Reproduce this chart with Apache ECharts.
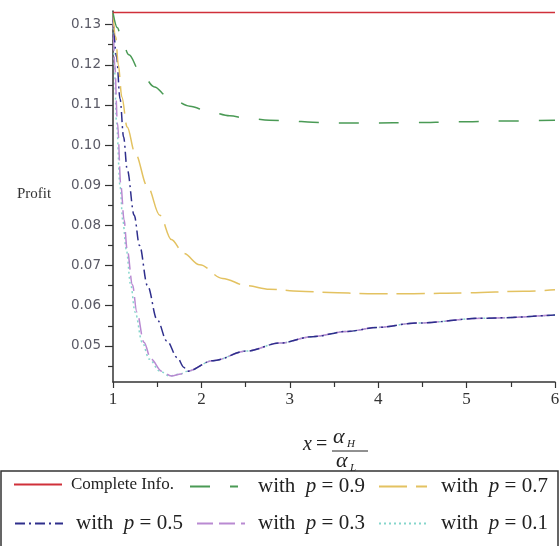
<!DOCTYPE html>
<html>
<head>
<meta charset="utf-8">
<script src="https://cdn.jsdelivr.net/npm/echarts@6/dist/echarts.min.js"></script>
<style>html,body{margin:0;padding:0;background:#fff}#c{width:559px;height:546px}</style>
</head>
<body>
<div id="c"></div>
<script>
// ---- data ----
var xTickLabels = [1, 2, 3, 4, 5, 6];
var xMinorTicks = [1.5, 2.5, 3.5, 4.5, 5.5];
var yTickLabels = [0.05, 0.06, 0.07, 0.08, 0.09, 0.10, 0.11, 0.12, 0.13];
var yMinorTicks = [0.045, 0.055, 0.065, 0.075, 0.085, 0.095, 0.105, 0.115, 0.125];

var completeX = [1, 6];
var completeY = [0.133, 0.133];

var p09X = [1, 1.05, 1.1, 1.18, 1.3, 1.47, 1.61, 1.87, 2.09, 2.32, 2.51, 2.77, 3.0, 3.26, 3.49, 3.72, 3.94, 4.4, 4.9, 5.4, 6.0];
var p09Y = [0.133, 0.1292, 0.126, 0.1225, 0.1185, 0.1145, 0.1122, 0.1097, 0.1083, 0.1073, 0.1067, 0.1062, 0.106, 0.1057, 0.1055, 0.1055, 0.1055, 0.1056, 0.1058, 0.106, 0.1062];

var p07X = [1, 1.03, 1.06, 1.10, 1.16, 1.25, 1.39, 1.53, 1.66, 1.8, 1.98, 2.24, 2.51, 2.77, 3.11, 3.45, 3.88, 4.4, 5.0, 5.65, 6.0];
var p07Y = [0.133, 0.127, 0.12, 0.112, 0.1045, 0.098, 0.0897, 0.0825, 0.0765, 0.073, 0.0702, 0.0668, 0.065, 0.0641, 0.0636, 0.0633, 0.063, 0.063, 0.0632, 0.0636, 0.064];

var p05X = [1, 1.04, 1.08, 1.12, 1.16, 1.24, 1.3, 1.39, 1.5, 1.61, 1.73, 1.8, 1.84, 2.13, 2.51, 2.89, 3.26, 3.65, 3.99, 4.44, 5.2, 6.0];
var p05Y = [0.133, 0.122, 0.1115, 0.102, 0.094, 0.0825, 0.075, 0.065, 0.0565, 0.0512, 0.047, 0.0447, 0.0437, 0.0463, 0.0487, 0.0507, 0.0523, 0.0536, 0.0546, 0.0557, 0.0569, 0.0577];

var p03X = [1, 1.02, 1.05, 1.09, 1.125, 1.16, 1.22, 1.27, 1.35, 1.43, 1.55, 1.66, 1.77, 1.84, 2.13, 2.51, 2.89, 3.26, 3.65, 3.99, 4.44, 5.2, 6.0];
var p03Y = [0.133, 0.12, 0.1055, 0.0897, 0.0814, 0.074, 0.0652, 0.0584, 0.0509, 0.0467, 0.0437, 0.0425, 0.043, 0.0437, 0.0463, 0.0487, 0.0507, 0.0523, 0.0536, 0.0546, 0.0557, 0.0569, 0.0577];

var p01X = [1, 1.015, 1.04, 1.08, 1.11, 1.15, 1.2, 1.25, 1.33, 1.41, 1.53, 1.64, 1.76, 1.84, 2.13, 2.51, 2.89, 3.26, 3.65, 3.99, 4.44, 5.2, 6.0];
var p01Y = [0.133, 0.12, 0.1055, 0.0897, 0.0814, 0.074, 0.0652, 0.0584, 0.0509, 0.0467, 0.0437, 0.0425, 0.043, 0.0437, 0.0463, 0.0487, 0.0507, 0.0523, 0.0536, 0.0546, 0.0557, 0.0569, 0.0577];

var seriesNames = ['Complete Info.', 'with p = 0.9', 'with p = 0.7', 'with p = 0.5', 'with p = 0.3', 'with p = 0.1'];

function zip(xs, ys) { return xs.map(function (x, i) { return [x, ys[i]]; }); }

var chart = echarts.init(document.getElementById('c'), null, { renderer: 'canvas' });

var serif = '"Liberation Serif", "DejaVu Serif", serif';
var axisColor = '#333';

function lineSeries(name, xs, ys, color, dash, z) {
  return {
    name: name, type: 'line', data: zip(xs, ys), symbol: 'none',
    smooth: 0.35, smoothMonotone: 'x', z: z,
    lineStyle: { color: color, width: 1.5, type: dash },
    itemStyle: { color: color }
  };
}

function legendItem(name, left, top, fontSize, pad) {
  return {
    data: [name], left: left, top: top, padding: 0,
    itemWidth: 48, itemHeight: 14, itemGap: 0,
    selectedMode: false,
    itemStyle: { opacity: 0, borderWidth: 0 },
    textStyle: {
      fontFamily: serif, fontSize: fontSize, color: '#222', padding: [0, 0, 0, pad],
      rich: { i: { fontFamily: serif, fontStyle: 'italic', fontSize: fontSize, color: '#222' } }
    },
    formatter: function (n) {
      return n.replace(/with p = /, 'with  {i|p} = ');
    }
  };
}

var option = {
  animation: false,
  backgroundColor: '#fff',
  grid: { left: 113, right: 4, top: 11, bottom: 164, outerBoundsMode: 'none', containLabel: false },
  xAxis: [{
    type: 'value', min: 1, max: 6,
    axisLine: { show: true, lineStyle: { color: axisColor, width: 1.5 } },
    axisTick: { show: true, length: 6, customValues: xTickLabels, lineStyle: { color: axisColor, width: 1.2 } },
    axisLabel: { customValues: xTickLabels, fontFamily: serif, fontSize: 17, color: '#333', margin: 9 },
    splitLine: { show: false }
  }, {
    type: 'value', min: 1, max: 6, position: 'bottom',
    axisLine: { show: false },
    axisTick: { show: true, length: 5, customValues: xMinorTicks, lineStyle: { color: axisColor, width: 1.2 } },
    axisLabel: { show: false },
    splitLine: { show: false }
  }],
  yAxis: [{
    type: 'value', min: 0.041, max: 0.1334,
    axisLine: { show: true, lineStyle: { color: axisColor, width: 1.5 } },
    axisTick: { show: true, length: 8, customValues: yTickLabels, lineStyle: { color: axisColor, width: 1.2 } },
    axisLabel: {
      customValues: yTickLabels, fontFamily: '"DejaVu Sans", sans-serif', fontSize: 13.5, color: '#5a5a66', margin: 12,
      formatter: function (v) { return v.toFixed(2); }
    },
    splitLine: { show: false }
  }, {
    type: 'value', min: 0.041, max: 0.1334, position: 'left', offset: 0,
    axisLine: { show: false },
    axisTick: { show: true, length: 5, customValues: yMinorTicks, lineStyle: { color: axisColor, width: 1.2 } },
    axisLabel: { show: false },
    splitLine: { show: false }
  }],
  legend: [
    legendItem(seriesNames[0], 13, 476, 17, 4),
    legendItem(seriesNames[1], 189, 476, 21, 15),
    legendItem(seriesNames[2], 378, 476, 21, 9),
    legendItem(seriesNames[3], 14, 513, 21, 8),
    legendItem(seriesNames[4], 196, 513, 21, 8),
    legendItem(seriesNames[5], 378, 513, 21, 9)
  ],
  series: [
    lineSeries(seriesNames[0], completeX, completeY, '#d0303a', 'solid', 6),
    lineSeries(seriesNames[1], p09X, p09Y, '#4a9a55', [20, 20], 5),
    lineSeries(seriesNames[2], p07X, p07Y, '#e3c261', [28, 9], 4),
    lineSeries(seriesNames[5], p01X, p01Y, '#86d6cc', [2, 3], 1),
    lineSeries(seriesNames[4], p03X, p03Y, '#b98ad2', [16, 6], 2),
    lineSeries(seriesNames[3], p05X, p05Y, '#2e2e8c', [10, 4, 2, 4], 3)
  ],
  graphic: [
    { type: 'text', left: 17, top: 187, style: { text: 'Profit', font: '15px ' + serif, fill: '#333' } },
    { type: 'text', x: 303, y: 445, style: { text: 'x', font: 'italic 20px ' + serif, fill: '#222', verticalAlign: 'middle' } },
    { type: 'text', x: 316, y: 445, style: { text: '=', font: '20px ' + serif, fill: '#222', verticalAlign: 'middle' } },
    { type: 'text', x: 333, y: 437, style: { text: 'α', font: 'italic 22px ' + serif, fill: '#222', verticalAlign: 'middle' } },
    { type: 'text', x: 347, y: 444, style: { text: 'H', font: 'italic 11px ' + serif, fill: '#222', verticalAlign: 'middle' } },
    { type: 'line', shape: { x1: 332, y1: 451, x2: 368, y2: 451 }, style: { stroke: '#222', lineWidth: 1 } },
    { type: 'text', x: 336, y: 461, style: { text: 'α', font: 'italic 22px ' + serif, fill: '#222', verticalAlign: 'middle' } },
    { type: 'text', x: 350, y: 468, style: { text: 'L', font: 'italic 11px ' + serif, fill: '#222', verticalAlign: 'middle' } },
    { type: 'rect', shape: { x: 1, y: 471, width: 557, height: 80 }, style: { fill: 'none', stroke: '#333', lineWidth: 1.5 } }
  ]
};
chart.setOption(option);
</script>
</body>
</html>
